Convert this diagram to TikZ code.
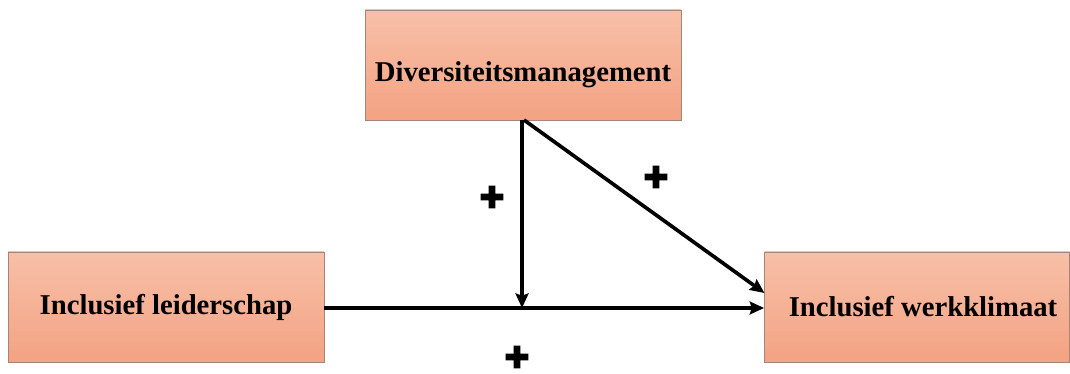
\documentclass[tikz,border=0pt]{standalone}
\usepackage{fontspec}
\setmainfont{Liberation Serif}
\newfontfamily\plusfont[FakeBold=4]{DejaVu Sans}
\usetikzlibrary{arrows.meta}
\definecolor{BoxTop}{HTML}{F7C0A8}
\definecolor{BoxBottom}{HTML}{F4A283}
\definecolor{BoxLine}{HTML}{A38677}

\tikzset{
  factorbox/.style={draw=BoxLine,line width=0.5pt,top color=BoxTop,bottom color=BoxBottom,
    minimum height=110*0.025cm,inner sep=0pt,font=\fontsize{20.4}{24}\selectfont\bfseries},
  effect/.style={line width=2.6pt,-{Stealth[length=0.36cm,width=0.32cm,inset=0.05cm]}},
  sign/.style={font=\plusfont\fontsize{21}{21}\selectfont,inner sep=0pt}
}

\begin{document}
\begin{tikzpicture}[x=0.025cm,y=0.025cm]
\path[use as bounding box] (0,0) rectangle (1070,374);
% boxes
\node[factorbox,minimum width=316*0.025cm,text height=0.95cm,text depth=0.1cm] (diversity) at (523,309) {Diversiteitsmanagement};
\node[factorbox,minimum width=316*0.025cm] (leadership) at (166,67) {Inclusief leiderschap};
\node[factorbox,minimum width=305*0.025cm] (climate) at (917,67) {\hspace*{0.3cm}Inclusief werkklimaat};
% arrows
\coordinate (meet) at (522,66);
\coordinate (topleft) at (522,254);
\coordinate (topright) at (524,254);
\coordinate (climatein) at (764.5,81);
\draw[effect] (leadership.east |- meet) -- (climate.west |- meet);
\draw[effect] (topleft) -- (meet);
\draw[effect] (topright) -- (climatein);
% signs
\node[sign] (plusmod) at (492,177) {✚};
\node[sign] (plusdiv) at (656,197) {✚};
\node[sign] (pluslead) at (517,17) {✚};
\end{tikzpicture}
\end{document}
